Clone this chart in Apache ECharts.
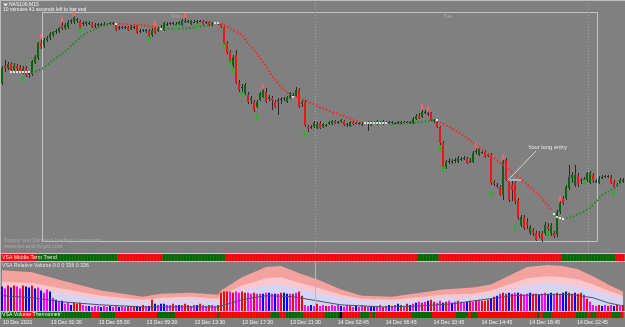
<!DOCTYPE html>
<html lang="en">
<head>
  <meta charset="UTF-8">
  <title>NAS100,M15</title>
  <script src="https://cdn.jsdelivr.net/npm/echarts@6/dist/echarts.min.js"></script>
  <style>
    html, body { margin: 0; padding: 0; background: #808080; }
    #main { width: 625px; height: 327px; }
  </style>
</head>
<body>
<div id="main"></div>
<script>
// M15 candles, one row per bar: [open, close, low, high]
var candles = [
  [16317,16332,16315,16334],[16334,16332,16328,16340],[16332,16336,16330,16338],[16336,16330,16328,16338],
  [16330,16334,16328,16337],[16334,16331,16329,16336],[16333,16329,16327,16335],[16329,16332,16326,16334],
  [16332,16325,16323,16334],[16326,16327,16322,16329],[16326,16339,16324,16340],[16337,16343,16336,16345],
  [16342,16357,16340,16358],[16357,16353,16351,16362],[16354,16360,16352,16362],[16360,16362,16358,16364],
  [16362,16366,16360,16368],[16365,16368,16363,16369],[16368,16369,16366,16371],[16369,16372,16367,16373],
  [16375,16372,16370,16378],[16372,16375,16370,16377],[16373,16378,16371,16380],[16378,16379,16376,16381],
  [16378,16382,16376,16384],[16379,16381,16377,16382],[16379,16372,16370,16380],[16376,16377,16374,16379],
  [16376,16378,16374,16379],[16377,16377,16375,16379],[16377,16373,16372,16378],[16374,16375,16372,16377],
  [16375,16376,16373,16377],[16376,16375,16374,16377],[16375,16376,16374,16378],[16376,16376,16374,16377],
  [16376,16377,16375,16378],[16377,16376,16375,16378],[16376,16370,16369,16377],[16372,16373,16370,16374],
  [16373,16372,16371,16374],[16372,16373,16371,16374],[16373,16370,16369,16374],[16371,16373,16370,16375],
  [16373,16373,16371,16375],[16375,16367,16366,16376],[16369,16369,16367,16371],[16369,16370,16368,16371],
  [16370,16369,16367,16371],[16369,16364,16362,16371],[16365,16370,16363,16372],[16372,16367,16366,16374],
  [16369,16371,16368,16373],[16371,16372,16370,16375],[16370,16377,16369,16378],[16376,16376,16374,16378],
  [16376,16377,16375,16378],[16377,16376,16375,16378],[16376,16376,16374,16378],[16376,16378,16375,16379],
  [16375,16380,16374,16381],[16379,16378,16377,16382],[16378,16379,16377,16380],[16376,16379,16375,16380],
  [16378,16378,16377,16380],[16378,16379,16376,16380],[16379,16379,16378,16380],[16379,16376,16375,16380],
  [16377,16378,16376,16379],[16378,16375,16374,16379],[16375,16377,16374,16378],[16377,16377,16376,16378],
  [16377,16376,16375,16378],[16376,16373,16372,16377],[16373,16357,16355,16374],[16357,16347,16346,16359],
  [16348,16337,16336,16350],[16335,16343,16332,16345],[16345,16317,16316,16350],[16317,16310,16308,16320],
  [16312,16313,16308,16316],[16307,16315,16305,16317],[16305,16298,16296,16308],[16300,16302,16296,16304],
  [16298,16290,16288,16300],[16293,16298,16292,16300],[16300,16307,16299,16308],[16303,16310,16302,16312],
  [16308,16298,16297,16312],[16301,16303,16299,16305],[16302,16300,16290,16304],[16298,16293,16292,16300],
  [16299,16300,16285,16302],[16300,16301,16296,16303],[16301,16302,16299,16303],[16298,16303,16297,16304],
  [16302,16307,16301,16308],[16304,16305,16302,16307],[16304,16310,16303,16313],[16310,16293,16292,16312],
  [16296,16298,16293,16300],[16298,16275,16273,16300],[16273,16271,16268,16275],[16273,16273,16271,16275],
  [16273,16277,16272,16279],[16272,16276,16271,16278],[16277,16272,16271,16279],[16273,16276,16272,16277],
  [16275,16275,16273,16276],[16276,16278,16275,16279],[16276,16279,16275,16280],[16279,16277,16276,16280],
  [16277,16278,16276,16279],[16278,16280,16277,16281],[16279,16275,16274,16280],[16275,16276,16273,16277],
  [16274,16278,16273,16279],[16278,16276,16275,16279],[16277,16277,16276,16278],[16277,16276,16275,16278],
  [16276,16276,16274,16278],[16277,16277,16276,16278],[16277,16278,16269,16279],[16275,16278,16274,16279],
  [16278,16277,16276,16279],[16276,16279,16275,16280],[16278,16277,16276,16279],[16276,16279,16275,16280],
  [16278,16277,16276,16279],[16277,16278,16276,16279],[16278,16277,16276,16279],[16277,16277,16276,16278],
  [16277,16278,16276,16279],[16278,16277,16276,16279],[16277,16278,16276,16279],[16278,16277,16276,16279],
  [16277,16278,16276,16279],[16277,16281,16276,16283],[16281,16284,16280,16286],[16285,16282,16281,16287],
  [16283,16288,16282,16290],[16288,16287,16286,16290],[16287,16286,16284,16288],[16287,16280,16279,16288],
  [16280,16279,16277,16281],[16278,16273,16272,16279],[16273,16257,16255,16274],[16257,16233,16231,16259],
  [16233,16238,16231,16240],[16238,16239,16236,16242],[16239,16238,16236,16241],[16239,16240,16237,16242],
  [16238,16242,16237,16244],[16241,16241,16239,16243],[16241,16242,16240,16244],[16241,16237,16236,16243],
  [16238,16239,16237,16242],[16238,16247,16237,16249],[16248,16249,16246,16252],[16245,16251,16244,16253],
  [16248,16248,16246,16250],[16248,16243,16242,16250],[16245,16245,16243,16247],[16245,16217,16215,16247],
  [16218,16216,16214,16220],[16215,16214,16212,16217],[16213,16205,16204,16215],[16205,16238,16200,16240],
  [16240,16220,16219,16242],[16220,16200,16198,16222],[16215,16210,16199,16219],[16217,16198,16196,16219],
  [16200,16182,16180,16202],[16175,16183,16173,16185],[16183,16172,16170,16185],[16178,16175,16171,16182],
  [16167,16173,16165,16175],[16170,16167,16164,16172],[16167,16160,16159,16169],[16167,16165,16162,16169],
  [16167,16160,16158,16169],[16167,16175,16165,16178],[16174,16171,16169,16177],[16167,16175,16164,16177],
  [16167,16164,16162,16169],[16165,16188,16163,16190],[16188,16197,16186,16200],[16202,16197,16195,16204],
  [16202,16213,16200,16215],[16212,16223,16210,16235],[16222,16225,16217,16228],[16215,16225,16213,16235],
  [16225,16215,16213,16227],[16220,16219,16216,16222],[16221,16221,16219,16223],[16220,16227,16218,16228],
  [16217,16227,16216,16229],[16225,16220,16217,16227],[16219,16218,16217,16221],[16217,16222,16216,16224],
  [16222,16223,16221,16225],[16224,16224,16222,16225],[16223,16224,16222,16225],[16223,16217,16216,16225],
  [16218,16213,16211,16220],[16215,16215,16213,16217],[16217,16220,16216,16222],[16220,16219,16217,16222]
];

var tickLabels = ['10 Dec 2021', '13 Dec 01:30', '13 Dec 05:30', '13 Dec 09:30', '13 Dec 13:30',
  '13 Dec 17:30', '13 Dec 21:30', '14 Dec 02:45', '14 Dec 06:45', '14 Dec 10:45',
  '14 Dec 14:45', '14 Dec 18:45', '14 Dec 22:45'];

// trailing stop dots: [bar, price]
var upTrail = [
  [[10,16327],[14,16332],[17,16340],[21,16348],[24,16357],[27,16365],[31,16371],[34,16375],[37,16376]],
  [[54,16371],[63,16372],[70,16375]],
  [[129,16276],[136,16277],[140,16278],[144,16280]],
  [[188,16182],[190,16183],[193,16187],[196,16192],[198,16198],[200,16205],[203,16210],[205,16215],[207,16218]]
];
var dnTrail = [
  [[39,16376],[46,16375],[52,16373]],
  [[73,16377],[74,16375],[77,16370],[80,16365],[82,16357],[84,16350],[86,16342],[88,16334],[90,16324],[93,16313],[95,16308],[96,16305]],
  [[98,16303],[100,16301],[103,16297],[106,16293],[110,16288],[114,16284],[117,16280],[120,16277]],
  [[146,16278],[149,16273],[152,16268],[155,16262],[158,16255],[161,16248],[164,16242],[167,16235],[170,16228],[173,16221],[176,16213],[179,16205],[181,16198],[183,16191]]
];
var flatTrail = [[3,16328],[4,16328],[5,16328],[6,16328],[7,16328],[8,16328],[9,16328],[38,16376],[53,16371],
  [71,16377],[72,16377],[97,16303],[121,16277],[122,16277],[123,16277],[124,16277],[125,16277],[126,16277],
  [127,16277],[128,16277],[145,16280],[184,16186],[185,16183],[186,16182],[187,16181]];

// swing arrows: [bar, price]
var sellArrows = [[13,16363],[20,16380],[24,16386],[51,16376],[61,16384],[87,16313],[140,16293],[142,16291],
  [158,16254],[167,16243],[186,16201]];
var buyArrows = [[7,16321],[26,16370],[49,16361],[58,16373],[65,16374],[74,16354],[76,16337],[77,16330],
  [80,16306],[85,16283],[101,16266],[146,16252],[147,16231],[163,16206],[171,16172],[182,16166],[194,16218],[204,16206]];

// VSA Middle Term Trend, runs of [state, bars]
var trendRuns = [['d',12],['u',27],['d',15],['u',21],['d',64],['u',7],['d',41],['u',18],['d',3]];
// VSA Volume Thermometr, runs of [state, bars]
var thermoRuns = [['u',7],['d',4],['u',19],['d',3],['u',5],['d',14],['u',6],['d',14],['u',1],['d',17],
  ['u',3],['d',2],['u',6],['d',7],['u',5],['k',1],['d',6],['u',3],['d',1],['u',1],['d',12],['u',7],
  ['d',8],['u',4],['d',1],['u',2],['d',20],['u',1],['d',1],['u',3],['d',8],['u',4],['d',1],['u',2],
  ['d',5],['u',3],['d',1]];

// VSA Relative Volume histogram
var volumes = [
  168,154,175,161,175,168,154,175,168,161,175,154,
  161,140,126,147,133,
  91,77,63,70,49,56,42,
  56,49,56,42,35,35,28,35,35,28,35,28,35,
  28,35,28,35,28,35,35,28,35,28,42,35,35,77,
  49,42,49,49,42,42,49,42,42,42,49,42,35,42,42,49,42,35,42,42,35,42,
  126,133,133,133,126,133,126,133,126,126,119,126,119,119,119,126,126,119,119,119,126,126,119,119,119,126,133,105,
  42,35,42,35,49,35,42,35,35,42,
  35,42,35,28,42,35,28,35,28,42,35,28,35,28,35,42,28,35,42,35,42,49,42,35,49,42,49,56,63,
  56,63,70,77,63,56,70,56,63,70,56,63,70,63,56,63,70,63,70,77,70,
  70,77,84,98,105,119,126,119,126,119,126,126,119,112,119,126,119,119,112,119,126,119,126,119,126,119,126,133,126,119,126,119,126,112,84,63,
  42,35,42,35,42,35,42,35,42,35,42
];
var volKinds = ('bmrbrmmrbbrb' + 'mbmmb' + 'mbmbmmb' + 'rrrmmbmmmbmmb' + 'mmbmmrmrbbrmbr' +
  'bmbbmmrmbmrrmmbrmmrmmr' + 'rrrmrmmrrmmrmmbmbmbmrbbmrmrr' + 'mmbmrmmrmm' +
  'mmbmmrmbmmrmbbmmrmbmmbrmrbmbm' + 'rmbrrmmbrmbmrmmbrmrmr' +
  'rrbrbmrrbrmbrmmbrrbmmbbmrmbbrrbrrmrm' + 'mmrbmrmbrmr').split('');

// band envelopes and average, read at these bars
var bandBars = [0,10,20,33,47,53,63,72,73,80,88,93,100,105,113,120,130,137,147,157,163,170,175,182,187,192,197,202,207];
var bandHigh = [280,266,210,140,98,119,126,112,140,231,301,308,252,217,147,105,98,119,147,161,182,252,301,315,308,287,238,182,133];
var bandMid  = [200,192,154,105,77,91,98,84,112,175,224,231,189,161,112,84,77,91,112,119,140,189,224,238,231,217,182,140,105];
var bandLow  = [154,147,119,84,63,70,77,70,91,140,175,182,147,126,91,70,63,70,91,98,112,147,175,189,182,168,140,112,84];
var avgBars = [0,10,20,33,47,63,72,80,88,97,105,113,127,140,150,160,170,180,190,197,202,207];
var avgVol  = [105,91,63,42,28,28,28,77,105,98,70,42,28,35,49,77,105,112,112,91,56,35];

var FONT = '"Liberation Sans", Arial, sans-serif';
var UP = '#0a640a', DOWN = '#f01414', DOJI = '#2e2e2e';
var stateColor = { u: '#006a00', d: '#ff0000', k: '#000000' };
var volColor = { r: '#ff0000', m: '#ff00ff', b: '#0000ff' };

var idx = candles.map(function (d, i) { return i; });

function expandRuns(runs) {
  var out = [];
  runs.forEach(function (r) {
    for (var k = 0; k < r[1]; k++) out.push({ value: 1, itemStyle: { color: stateColor[r[0]] } });
  });
  return out;
}
function pairs(xs, ys) {
  return xs.map(function (x, k) { return [x, ys[k]]; });
}

function renderCandle(params, api) {
  var i = api.value(0);
  var o = api.value(1), c = api.value(2), lo = api.value(3), hi = api.value(4);
  var pO = api.coord([i, o]), pC = api.coord([i, c]);
  var pL = api.coord([i, lo]), pH = api.coord([i, hi]);
  var cx = Math.round(pO[0]);
  var top = Math.round(Math.min(pO[1], pC[1]));
  var bot = Math.round(Math.max(pO[1], pC[1]));
  var col = Math.abs(c - o) <= 1 ? DOJI : (c > o ? UP : DOWN);
  var yh = Math.round(pH[1]), yl = Math.round(pL[1]);
  return {
    type: 'group',
    children: [
      { type: 'rect', shape: { x: cx, y: yh, width: 1, height: Math.max(1, yl - yh) }, style: { fill: '#2a2a2a' } },
      { type: 'rect', shape: { x: cx - 1, y: top, width: 2, height: Math.max(1, bot - top) }, style: { fill: col } }
    ]
  };
}

var series = [];
series.push({
  type: 'custom', xAxisIndex: 0, yAxisIndex: 0, renderItem: renderCandle,
  encode: { x: 0, y: [1, 2, 3, 4] },
  data: candles.map(function (d, i) { return [i, d[0], d[1], d[2], d[3]]; }),
  z: 3
});
upTrail.forEach(function (seg) {
  series.push({ type: 'line', xAxisIndex: 0, yAxisIndex: 0, data: seg, symbol: 'none', z: 4,
    lineStyle: { color: '#1c901c', width: 2, type: [1.6, 2], cap: 'butt' } });
});
dnTrail.forEach(function (seg) {
  series.push({ type: 'line', xAxisIndex: 0, yAxisIndex: 0, data: seg, symbol: 'none', z: 4,
    lineStyle: { color: '#ff2626', width: 2, type: [1.6, 2], cap: 'butt' } });
});
series.push({ type: 'scatter', xAxisIndex: 0, yAxisIndex: 0, data: flatTrail, symbol: 'rect',
  symbolSize: [2, 2], itemStyle: { color: '#ffffff' }, z: 5 });
series.push({ type: 'scatter', xAxisIndex: 0, yAxisIndex: 0, data: sellArrows, z: 5,
  symbol: 'path://M3,0 L7,0 L7,5 L10,5 L5,10 L0,5 L3,5 Z', symbolSize: [5, 6],
  itemStyle: { color: '#ff6464', opacity: 0.85 } });
series.push({ type: 'scatter', xAxisIndex: 0, yAxisIndex: 0, data: buyArrows, z: 5,
  symbol: 'path://M5,0 L10,5 L7,5 L7,10 L3,10 L3,5 L0,5 Z', symbolSize: [5, 6],
  itemStyle: { color: '#22b822', opacity: 0.9 } });

series.push({ type: 'bar', xAxisIndex: 1, yAxisIndex: 1, data: expandRuns(trendRuns),
  barWidth: '100%', barCategoryGap: 0 });

[[bandHigh, '#f4a29d'], [bandMid, '#f9c8ce'], [bandLow, '#d6d4f5']].forEach(function (b, k) {
  series.push({ type: 'line', xAxisIndex: 2, yAxisIndex: 2, data: pairs(bandBars, b[0]), symbol: 'none',
    z: 1 + k * 0.1, lineStyle: { width: 0 }, areaStyle: { color: b[1], opacity: 1 } });
});
series.push({ type: 'bar', xAxisIndex: 2, yAxisIndex: 2, barWidth: 2, z: 6,
  data: volumes.map(function (v, i) { return { value: v, itemStyle: { color: volColor[volKinds[i]] } }; }) });
series.push({ type: 'line', xAxisIndex: 2, yAxisIndex: 2, data: pairs(avgBars, avgVol), symbol: 'none',
  z: 7, lineStyle: { color: '#44546a', width: 1 } });

series.push({ type: 'bar', xAxisIndex: 3, yAxisIndex: 3, data: expandRuns(thermoRuns),
  barWidth: '100%', barCategoryGap: 0 });

var grids = [
  { left: 0.5, width: 624, top: 0, height: 253 },
  { left: 0.5, width: 624, top: 254, height: 7 },
  { left: 0.5, width: 624, top: 262, height: 49 },
  { left: 0.5, width: 624, top: 312, height: 6 }
];

var option = {
  backgroundColor: '#808080',
  animation: false,
  grid: grids,
  xAxis: grids.map(function (g, k) {
    return {
      type: 'category', gridIndex: k, data: idx, boundaryGap: true, show: k === 3,
      axisLine: { show: false }, axisTick: { show: false }, splitLine: { show: false },
      axisLabel: {
        interval: 0, margin: 2, align: 'left', color: '#f2f2f2', fontSize: 5.2, fontFamily: FONT,
        formatter: function (v, i) { return i % 16 === 0 ? (tickLabels[i / 16] || '') : ''; }
      }
    };
  }),
  yAxis: [
    { type: 'value', gridIndex: 0, min: 16147, max: 16400, show: false },
    { type: 'value', gridIndex: 1, min: 0, max: 1, show: false },
    { type: 'value', gridIndex: 2, min: 0, max: 336, show: false },
    { type: 'value', gridIndex: 3, min: 0, max: 1, show: false }
  ],
  series: series
};

var chart = echarts.init(document.getElementById('main'), null, { width: 625, height: 327 });
chart.setOption(option);

function txt(s, x, y, size, fill) {
  return { type: 'text', z: 100, style: { text: s, x: x, y: y, fill: fill,
    font: size + 'px ' + FONT, verticalAlign: 'top', textVerticalAlign: 'top' } };
}
function ln(x1, y1, x2, y2, stroke, dash, z) {
  return { type: 'line', z: z || 50, shape: { x1: x1, y1: y1, x2: x2, y2: y2 },
    style: { stroke: stroke, lineWidth: 1, lineDash: dash || null } };
}

// entry point the note points at
var entry = chart.convertToPixel({ gridIndex: 0 }, [169, 16220]);
var ex = entry[0], ey = entry[1];

chart.setOption({
  graphic: [
    { type: 'rect', z: 1, shape: { x: 42.5, y: 12.5, width: 555, height: 229 },
      style: { fill: 'none', stroke: '#c4c4c4', lineWidth: 1 } },
    ln(0, 0.5, 625, 0.5, '#bcbcbc'),
    ln(0.5, 0, 0.5, 319, '#bcbcbc'),
    ln(315.5, 0, 315.5, 253, '#a2a2a2', [1, 2], 1),
    ln(588.5, 0, 588.5, 253, '#a2a2a2', [1, 2], 1),
    ln(315.5, 262, 315.5, 311, '#b8b8b8', null, 50),
    ln(0, 253.5, 625, 253.5, '#c8c8c8'),
    ln(0, 261.5, 625, 261.5, '#c8c8c8'),
    ln(0, 311.5, 625, 311.5, '#c8c8c8'),
    { type: 'polygon', z: 100, shape: { points: [[3, 3.5], [8, 3.5], [5.5, 6.5]] }, style: { fill: '#f4f4f4' } },
    txt('NAS100,M15', 9, 2.5, 5, '#f4f4f4'),
    txt('10 minutes 41 seconds left to bar end', 3, 7, 5, '#f4f4f4'),
    txt('Mon', 171, 13, 5.5, '#aaaaaa'),
    txt('Tue', 443, 13, 5.5, '#aaaaaa'),
    txt('Supply and Demand Trading Community', 4, 238.5, 5.4, '#a9a9a9'),
    txt('www.set-and-forget.com', 4, 244.5, 5.4, '#a9a9a9'),
    txt('VSA Middle Term Trend', 2, 255, 5.2, '#ffe6e6'),
    txt('VSA Relative Volume 0 0 0 336 0 336', 2, 263.5, 5.2, '#e4e4e4'),
    txt('VSA Volume Thermometr', 2, 312.5, 5.2, '#f4f4f4'),
    ln(ex - 1, ey, ex + 12, ey, '#e0e0e0', null, 100),
    ln(ex, ey - 1, ex + 27, ey - 29, '#d4d4d4', null, 100),
    txt('Your long entry', ex + 19, ey - 36, 5.8, '#ececec')
  ]
});
</script>
</body>
</html>
